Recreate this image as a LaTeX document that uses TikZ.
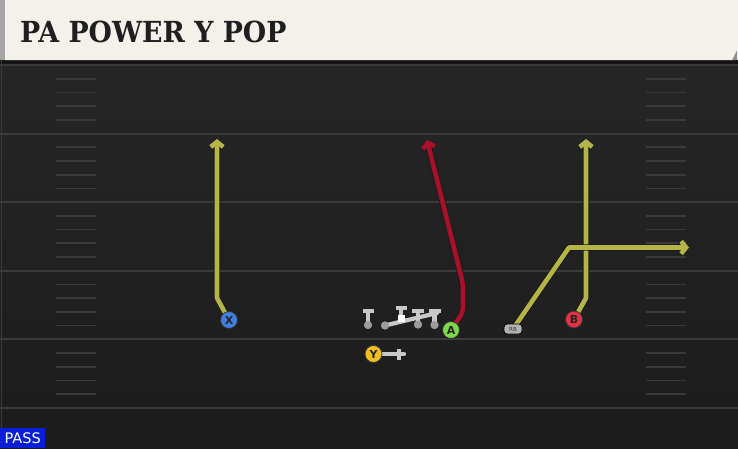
\documentclass[tikz,border=0pt]{standalone}
\usepackage{fontspec}
\usetikzlibrary{arrows.meta}
\newfontfamily\titlefont{DejaVu Serif}
\newfontfamily\labfont{DejaVu Sans}
\definecolor{cream}{HTML}{F4F1EA}
\definecolor{fieldtop}{HTML}{262626}
\definecolor{fieldbot}{HTML}{1C1C1C}
\definecolor{yardline}{HTML}{3A3A3A}
\definecolor{routeY}{HTML}{B4B546}
\definecolor{routeR}{HTML}{A8102C}
\definecolor{xblue}{HTML}{3F7FE0}
\definecolor{agreen}{HTML}{7ED84A}
\definecolor{bred}{HTML}{E23344}
\definecolor{yyellow}{HTML}{F0C020}
\definecolor{blkgray}{HTML}{C8C8C8}
\definecolor{dotgray}{HTML}{9C9C9C}
\definecolor{passblue}{HTML}{0A1ED8}
\pgfdeclarelayer{field}
\pgfdeclarelayer{routes}
\pgfsetlayers{field,routes,main}
\begin{document}
\begin{tikzpicture}[x=1pt,y=-1pt,
  yard/.style={draw=yardline, line width=2pt},
  hash/.style={draw=yardline, line width=1.7pt},
  route/.style={line width=4.6pt, line join=round,
    -{Straight Barb[length=5pt,width=12.5pt]},
    preaction={draw=black!90, line width=6.4pt}},
  player/.style={circle, minimum size=17pt, inner sep=0pt, draw=black!80,
    line width=0.8pt, font=\labfont\bfseries\fontsize{11}{11}\selectfont, text=black!85},
  rbtag/.style={rectangle, rounded corners=3pt, fill=black!30, draw=black,
    line width=0.8pt, minimum width=18pt, minimum height=10pt, inner sep=0pt,
    font=\labfont\fontsize{5.5}{5.5}\selectfont, text=black!80},
  blk/.style={draw=blkgray, line width=4.2pt, line cap=round},
  bar/.style={draw=blkgray, line width=4.2pt, line cap=butt},
  ldot/.style={circle, fill=dotgray, minimum size=8pt, inner sep=0pt},
  csq/.style={rectangle, fill=white, minimum size=7pt, inner sep=0pt}]
\useasboundingbox (0,0) rectangle (738,448);
\begin{pgfonlayer}{field}
  \shade[top color=fieldtop, bottom color=fieldbot] (0,60) rectangle (738,448);
  \fill[black!92] (0,60) rectangle (738,64);
  \draw[yardline, line width=1.5pt] (1.5,60) -- (1.5,448);
  \foreach \yl in {65,133.6,202.2,270.8,339.4,408} {
    \draw[yard] (0,\yl) -- (738,\yl);
  }
  \foreach \yl in {65,133.6,202.2,270.8,339.4} {
    \foreach \k in {1,2,3,4} {
      \draw[hash] (56,\yl+13.7*\k) -- (96,\yl+13.7*\k);
      \draw[hash] (646,\yl+13.7*\k) -- (686,\yl+13.7*\k);
    }
  }
  % header
  \fill[black!35] (0,0) rectangle (5,60);
  \fill[black!45] (730,60) -- (737,48) -- (737,60) -- cycle;
  \fill[cream] (5,0) -- (738,0) -- (738,48) -- (732,60) -- (5,60) -- cycle;
\end{pgfonlayer}

\node[anchor=base west, inner sep=0pt, text=black!88,
  font=\titlefont\bfseries\fontsize{29}{29}\selectfont] (title) at (20,42.7)
  {\scalebox{0.925}[1]{PA POWER Y POP}};

\node[anchor=south west, fill=passblue, text=white, inner sep=0pt,
  minimum width=45pt, minimum height=20pt,
  font=\labfont\fontsize{14.5}{14.5}\selectfont] (pass) at (0,448) {PASS};

% players
\node[player, fill=xblue] (X) at (229,320) {X};
\node[player, fill=agreen] (A) at (451,330) {A};
\node[player, fill=bred] (B) at (574,319.5) {B};
\node[player, fill=yyellow] (Y) at (373.5,354) {Y};
\node[rbtag] (RB) at (513,329) {RB};

% route bends and ends
\coordinate (xb) at (217,298);
\coordinate (xe) at (217,139);
\coordinate (ab1) at (463,312);
\coordinate (ab2) at (463,284);
\coordinate (ae) at (427,140);
\coordinate (bb) at (586,298);
\coordinate (be) at (586,139);
\coordinate (rb) at (569,247.5);
\coordinate (re) at (689,247.5);

\begin{pgfonlayer}{routes}
  \draw[route, routeY] (X.center) -- (xb) -- (xe);
  \draw[route, routeR, rounded corners=5pt] (A.center) -- (ab1) -- (ab2) -- (ae);
  \draw[route, routeY] (B.center) -- (bb) -- (be);
  \draw[route, routeY] (RB.center) -- (rb) -- (re);
\end{pgfonlayer}

% offensive line
\coordinate (T1) at (368,311);
\coordinate (T2) at (401,308);
\coordinate (T3) at (418,311);
\coordinate (T4) at (434.5,311);
\coordinate (LE) at (437,313);
\node[ldot] (L1) at (368,325) {};
\node[ldot] (L2) at (385,325.5) {};
\node[ldot] (L3) at (418,324.5) {};
\node[ldot] (L4) at (434.5,325) {};
\draw[blk] (L1.center) -- (T1);
\draw[bar] ([xshift=-5.5pt]T1) -- ([xshift=5.5pt]T1);
\draw[blk] (L3.center) -- (T3);
\draw[bar] ([xshift=-6pt]T3) -- ([xshift=6pt]T3);
\draw[blk] (L4.center) -- (T4);
\draw[bar] ([xshift=-6pt]T4) -- ([xshift=6pt]T4);
\draw[blk] (401,318) -- (T2);
\draw[bar] ([xshift=-5.5pt]T2) -- ([xshift=5.5pt]T2);
\draw[blk] (L2.center) -- (LE);
\node[ldot] at (L1) {};
\node[ldot] at (L2) {};
\node[ldot] at (L3) {};
\node[ldot] at (L4) {};
\node[csq] (C) at (401.5,318.5) {};

% Y block
\coordinate (yb) at (399,354);
\coordinate (ye) at (404,354);
\draw[blk] (Y.east) -- (ye);
\draw[bar] ([yshift=-5.5pt]yb) -- ([yshift=5.5pt]yb);
\node[player, fill=yyellow] at (Y) {Y};
\end{tikzpicture}
\end{document}
